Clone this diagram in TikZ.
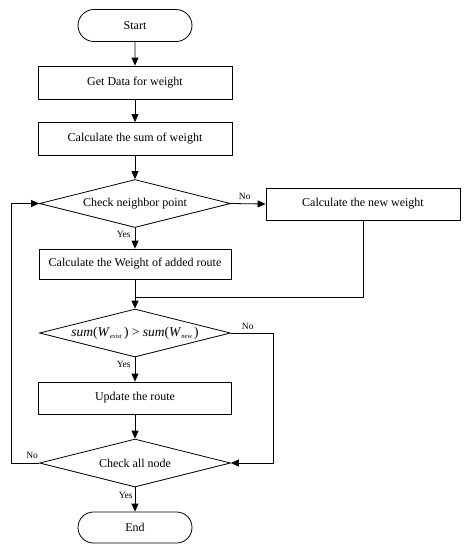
\documentclass[tikz,border=0pt]{standalone}
\usepackage{fontspec}
\setmainfont{Liberation Serif}
\usetikzlibrary{shapes.geometric,shapes.misc,arrows.meta}
\begin{document}
\begin{tikzpicture}[x=1pt,y=-1pt,
  base/.style={draw, line width=0.8pt, font=\fontsize{12}{14}\selectfont, inner sep=0pt, anchor=center},
  proc/.style={base, rectangle, minimum width=194pt, minimum height=33pt},
  term/.style={base, rounded rectangle, minimum width=114pt, minimum height=32pt},
  dec/.style={base, diamond, aspect=3.9, minimum width=191pt, minimum height=48pt},
  lbl/.style={font=\fontsize{9.5}{10}\selectfont, inner sep=1pt},
  conn/.style={line width=0.8pt, -{Triangle[length=8pt,width=7pt]}},
  plain/.style={line width=0.8pt}
]
\useasboundingbox (0,0) rectangle (467,550);
\node[term] (start) at (135,25.5) {Start};
\node[proc] (get) at (135,82.5) {Get Data for weight};
\node[proc] (sum) at (135,139) {Calculate the sum of weight};
\node[dec] (chk) at (135,203.5) {Check neighbor point};
\node[proc, minimum height=32pt] (new) at (363,204) {Calculate the new weight};
\node[proc, minimum width=192pt, minimum height=30pt] (add) at (135,264) {Calculate the Weight of added route};
\coordinate (merge) at (135,297);
\node[dec, font=\fontsize{13.5}{15}\selectfont] (cmp) at (135,333) {\textit{sum}(\textit{W}\raisebox{-2.5pt}{\fontsize{6.5}{7}\selectfont\textit{exist}}\,) > \textit{sum}(\textit{W}\raisebox{-2.5pt}{\fontsize{6.5}{7}\selectfont\textit{new}}\,)};
\node[proc, minimum width=193pt, minimum height=32pt] (upd) at (135,398) {Update the route};
\node[dec] (all) at (135,463) {Check all node};
\node[term, minimum height=31pt] (end) at (135,527.5) {End};

\coordinate (leftx) at (11,0);
\coordinate (rightx) at (273,0);

\draw[conn] (start) -- (get);
\draw[conn] (get) -- (sum);
\draw[conn] (sum) -- (chk);
\draw[conn] (chk.east) -- (new.west) node[lbl, pos=0.4, above=3pt] {No};
\draw[conn] (chk.south) -- (add.north) node[lbl, pos=0.3, left=3pt] {Yes};
\draw[plain] (add.south) -- (merge);
\draw[plain] (new.south) |- (merge);
\draw[conn] (merge) -- (cmp.north);
\draw[conn] (cmp.south) -- (upd.north) node[lbl, pos=0.3, left=3pt] {Yes};
\draw[conn] (cmp.east) -- (cmp.east -| rightx) node[lbl, pos=0.4, above=2pt] {No} |- (all.east);
\draw[conn] (upd.south) -- (all.north);
\draw[conn] (all.west) -- (all.west -| leftx) node[lbl, pos=0.25, above=3pt] {No} |- (chk.west);
\draw[conn] (all.south) -- (end.north) node[lbl, pos=0.35, left=1pt] {Yes};
\end{tikzpicture}
\end{document}
